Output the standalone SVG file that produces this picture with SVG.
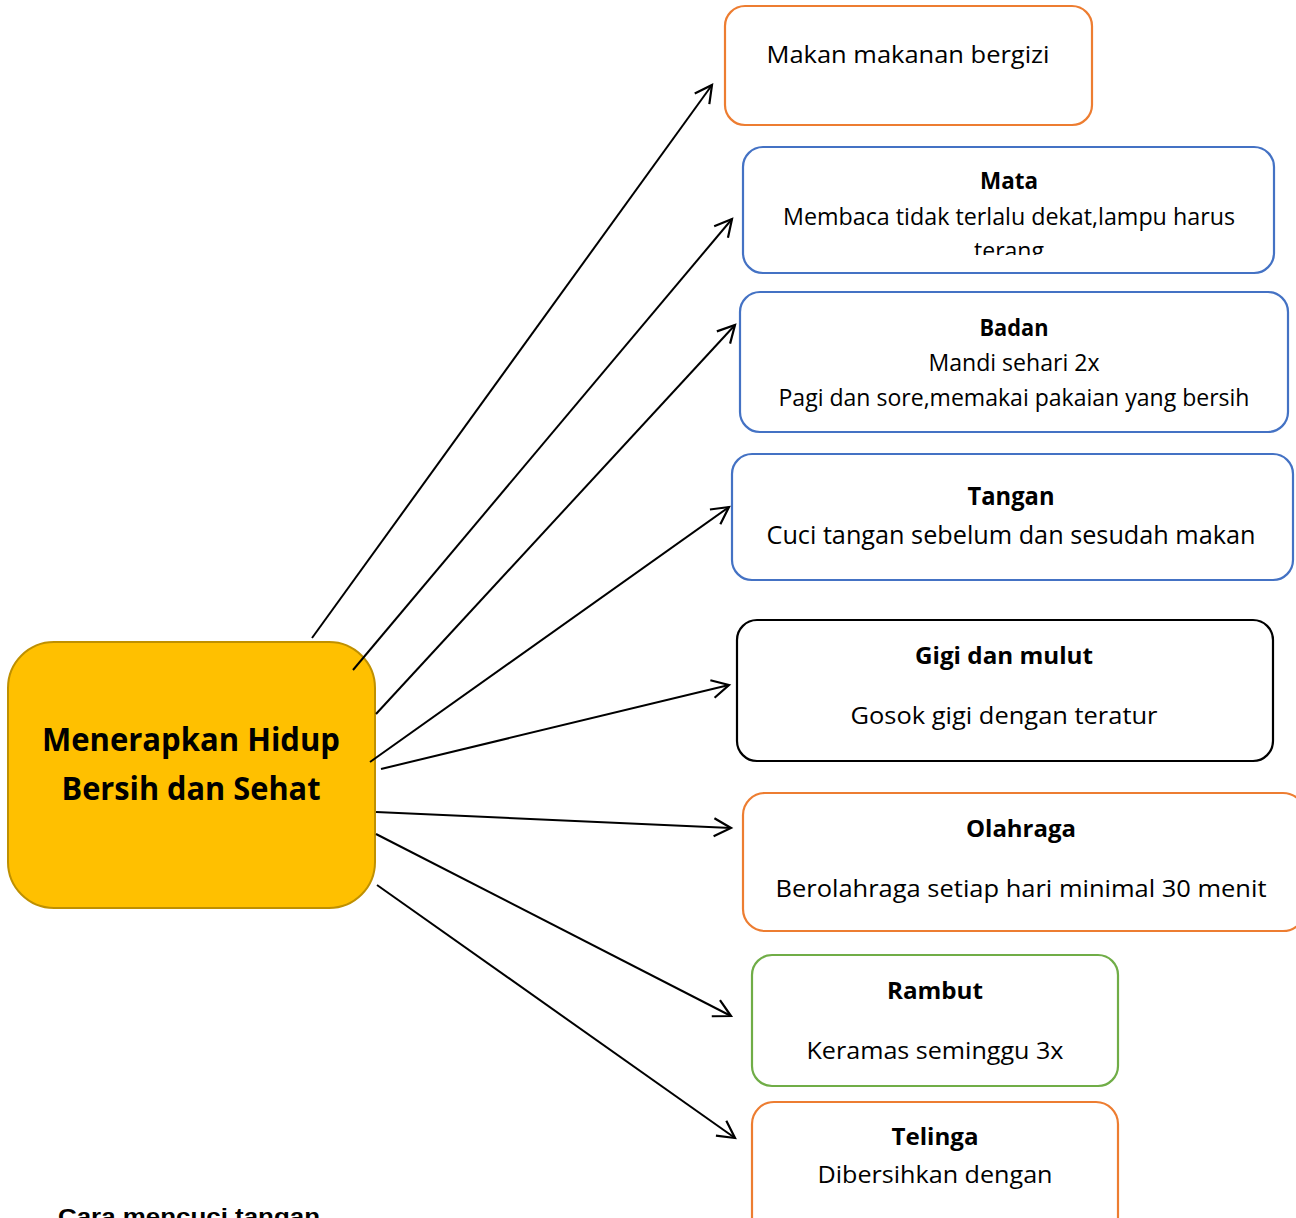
<svg xmlns="http://www.w3.org/2000/svg" width="1296" height="1218" viewBox="0 0 1296 1218">
<defs>
<marker id="ah" markerUnits="userSpaceOnUse" markerWidth="24" markerHeight="24" refX="19" refY="10" orient="auto" viewBox="0 0 24 20">
<path d="M2,1 L19,10 L2,19" fill="none" stroke="#000" stroke-width="2.2" stroke-linejoin="miter"/>
</marker>
<clipPath id="cMata"><rect x="743" y="147" width="531" height="108"/></clipPath>
<clipPath id="cPage"><rect x="0" y="0" width="1296" height="1218"/></clipPath>
</defs>
<style>
.box{fill:#fff;stroke-width:2.2}
.or{stroke:#ED7D31}.bl{stroke:#4472C4}.bk{stroke:#000}.gr{stroke:#70AD47}
text{font-family:"Open Sans","Liberation Sans",sans-serif;fill:#000;text-anchor:middle}
.t{font-size:23px}
.b{font-size:23px;font-weight:bold}
.c{font-size:32px;font-weight:bold}
.conn line{stroke:#000;stroke-width:2;marker-end:url(#ah)}
</style>
<rect width="1296" height="1218" fill="#fff"/>
<g id="center">
<rect x="8" y="642" width="367" height="266" rx="46" fill="#FFC000" stroke="#BF9000" stroke-width="2"/>
<text class="c" x="191" y="751" textLength="298" lengthAdjust="spacingAndGlyphs">Menerapkan Hidup</text>
<text class="c" x="191" y="800" textLength="259" lengthAdjust="spacingAndGlyphs">Bersih dan Sehat</text>
</g>
<g id="n-makan">
<rect class="box or" x="725" y="6" width="367" height="119" rx="20"/>
<text class="t" x="908" y="63" textLength="283" lengthAdjust="spacingAndGlyphs">Makan makanan bergizi</text>
</g>
<g id="n-mata">
<rect class="box bl" x="743" y="147" width="531" height="126" rx="20"/>
<text class="b" x="1009" y="189" textLength="58" lengthAdjust="spacingAndGlyphs">Mata</text>
<text class="t" x="1009" y="225" textLength="452" lengthAdjust="spacingAndGlyphs">Membaca tidak terlalu dekat,lampu harus</text>
<text class="t" x="1009" y="259" clip-path="url(#cMata)" textLength="70" lengthAdjust="spacingAndGlyphs">terang</text>
</g>
<g id="n-badan">
<rect class="box bl" x="740" y="292" width="548" height="140" rx="20"/>
<text class="b" x="1014" y="336" textLength="69" lengthAdjust="spacingAndGlyphs">Badan</text>
<text class="t" x="1014" y="371" textLength="171" lengthAdjust="spacingAndGlyphs">Mandi sehari 2x</text>
<text class="t" x="1014" y="406" textLength="471" lengthAdjust="spacingAndGlyphs">Pagi dan sore,memakai pakaian yang bersih</text>
</g>
<g id="n-tangan">
<rect class="box bl" x="732" y="454" width="561" height="126" rx="20"/>
<text class="b" x="1011" y="505" style="font-size:25px" textLength="87" lengthAdjust="spacingAndGlyphs">Tangan</text>
<text class="t" x="1011" y="544" style="font-size:25px" textLength="489" lengthAdjust="spacingAndGlyphs">Cuci tangan sebelum dan sesudah makan</text>
</g>
<g id="n-gigi">
<rect class="box bk" x="737" y="620" width="536" height="141" rx="20"/>
<text class="b" x="1004" y="664" style="font-size:24px" textLength="178" lengthAdjust="spacingAndGlyphs">Gigi dan mulut</text>
<text class="t" x="1004" y="724" style="font-size:24px" textLength="307" lengthAdjust="spacingAndGlyphs">Gosok gigi dengan teratur</text>
</g>
<g id="n-olahraga">
<rect class="box or" x="743" y="793" width="562" height="138" rx="22"/>
<text class="b" x="1021" y="837" style="font-size:24px" textLength="110" lengthAdjust="spacingAndGlyphs">Olahraga</text>
<text class="t" x="1021" y="897" style="font-size:24px" textLength="491" lengthAdjust="spacingAndGlyphs">Berolahraga setiap hari minimal 30 menit</text>
</g>
<g id="n-rambut">
<rect class="box gr" x="752" y="955" width="366" height="131" rx="20"/>
<text class="b" x="935" y="999" style="font-size:24px" textLength="96" lengthAdjust="spacingAndGlyphs">Rambut</text>
<text class="t" x="935" y="1059" style="font-size:24px" textLength="257" lengthAdjust="spacingAndGlyphs">Keramas seminggu 3x</text>
</g>
<g id="n-telinga">
<rect class="box or" x="752" y="1102" width="366" height="140" rx="22"/>
<text class="b" x="935" y="1145" style="font-size:24px" textLength="87" lengthAdjust="spacingAndGlyphs">Telinga</text>
<text class="t" x="935" y="1183" style="font-size:24px" textLength="235" lengthAdjust="spacingAndGlyphs">Dibersihkan dengan</text>
</g>
<g class="conn" id="connectors">
<line x1="312" y1="638" x2="712" y2="85"/>
<line x1="353" y1="670" x2="732" y2="219"/>
<line x1="376" y1="714" x2="735" y2="325"/>
<line x1="370" y1="762" x2="729" y2="507"/>
<line x1="381" y1="769" x2="729" y2="685"/>
<line x1="376" y1="812" x2="731" y2="828"/>
<line x1="376" y1="834" x2="731" y2="1016"/>
<line x1="377" y1="885" x2="735" y2="1138"/>
</g>
<text x="189" y="1224" style="font-family:'Liberation Sans',Arial,sans-serif;font-size:22px;font-weight:bold" textLength="262" lengthAdjust="spacingAndGlyphs">Cara mencuci tangan</text>
</svg>
